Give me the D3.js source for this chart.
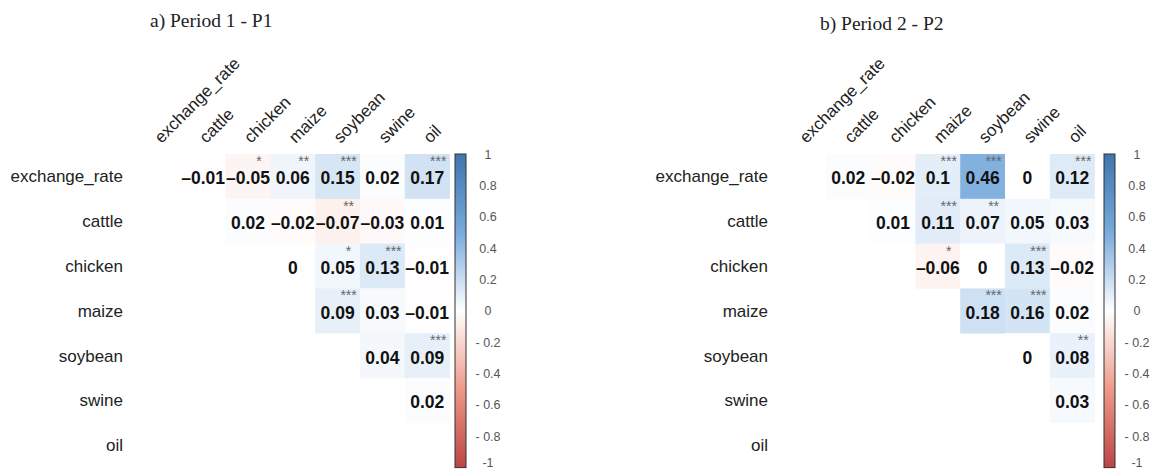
<!DOCTYPE html>
<html><head><meta charset="utf-8">
<script src="https://cdn.jsdelivr.net/npm/d3@7"></script>
<style>body{margin:0;background:#fff}svg{display:block}</style>
</head><body><svg id="c" width="1150" height="472"></svg>
<script>
const variables = ["exchange_rate","cattle","chicken","maize","soybean","swine","oil"];
// upper triangle (no diagonal), row i holds columns i+1..6
const p1Values = [
  [-0.01,-0.05,0.06,0.15,0.02,0.17],
  [0.02,-0.02,-0.07,-0.03,0.01],
  [0,0.05,0.13,-0.01],
  [0.09,0.03,-0.01],
  [0.04,0.09],
  [0.02]
];
const p1Stars = [
  ["","*","**","***","","***"],
  ["","","**","",""],
  ["","*","***",""],
  ["***","",""],
  ["","***"],
  [""]
];
const p2Values = [
  [0.02,-0.02,0.1,0.46,0,0.12],
  [0.01,0.11,0.07,0.05,0.03],
  [-0.06,0,0.13,-0.02],
  [0.18,0.16,0.02],
  [0,0.08],
  [0.03]
];
const p2Stars = [
  ["","","***","***","","***"],
  ["","***","**","",""],
  ["*","","***",""],
  ["***","***",""],
  ["","**"],
  [""]
];
const legendTicks = [1,0.8,0.6,0.4,0.2,0,-0.2,-0.4,-0.6,-0.8,-1];
const legendLabels = ["1","0.8","0.6","0.4","0.2","0","- 0.2","- 0.4","- 0.6","- 0.8","-1"];
const colorStops = [-1,-0.5,0,0.5,1];
const colorRange = ["#BB4444","#EE9988","#FFFFFF","#77AADD","#3F76AD"];
const titles = ["a) Period 1 - P1","b) Period 2 - P2"];

(function(){
const svg = d3.select("#c");
const color = d3.scaleLinear().domain(colorStops).range(colorRange).interpolate(d3.interpolateRgb);
const cell = 44.8, mTop = 154;

const defs = svg.append("defs");
const grad = defs.append("linearGradient").attr("id","cb").attr("x1",0).attr("y1",1).attr("x2",0).attr("y2",0);
d3.range(-1,1.0001,0.05).forEach(v=>{
  grad.append("stop").attr("offset",((v+1)/2*100)+"%").attr("stop-color",color(v));
});

function fmt(v){ return String(v).replace("-","\u2013"); }

function panel(left, barX, values, stars, title, tx, ty){
  const g = svg.append("g");
  const x = d3.scaleBand().domain(variables).range([left, left+cell*7]);
  const y = d3.scaleBand().domain(variables).range([mTop, mTop+cell*7]);
  const cells = [];
  values.forEach((row,i)=>row.forEach((v,k)=>{
    const j=i+1+k;
    cells.push({r:variables[i],c:variables[j],v,s:stars[i][k]});
  }));
  g.selectAll("rect.cell").data(cells).join("rect").attr("class","cell")
    .attr("x",d=>x(d.c)).attr("y",d=>y(d.r))
    .attr("width",x.bandwidth()+0.3).attr("height",y.bandwidth()+0.3)
    .attr("fill",d=>color(d.v));
  g.selectAll("text.num").data(cells).join("text").attr("class","num")
    .attr("x",d=>x(d.c)+x.bandwidth()/2).attr("y",d=>y(d.r)+y.bandwidth()/2+8)
    .attr("text-anchor","middle")
    .style("font-family","Liberation Sans, Arial, sans-serif").style("font-weight","bold")
    .style("font-size","17.5px").attr("fill","#111").text(d=>fmt(d.v));
  g.selectAll("text.star").data(cells.filter(d=>d.s)).join("text").attr("class","star")
    .attr("x",d=>x(d.c)+x.bandwidth()/2+11).attr("y",d=>y(d.r)+12)
    .attr("text-anchor","middle")
    .style("font-family","Liberation Sans, Arial, sans-serif")
    .style("font-size","14px").attr("fill","#666").text(d=>d.s);
  g.selectAll("text.rl").data(variables).join("text").attr("class","rl")
    .attr("x",left-13).attr("y",d=>y(d)+y.bandwidth()/2+6)
    .attr("text-anchor","end")
    .style("font-family","Liberation Sans, Arial, sans-serif")
    .style("font-size","17px").attr("fill","#222").text(d=>d);
  g.selectAll("text.cl").data(variables).join("text").attr("class","cl")
    .attr("transform",d=>`translate(${x(d)+x.bandwidth()/2+3},${mTop-10}) rotate(-45)`)
    .style("font-family","Liberation Sans, Arial, sans-serif")
    .style("font-size","17px").attr("fill","#222").text(d=>d);
  const yb = d3.scaleLinear().domain([-1,1]).range([mTop+cell*7, mTop]);
  g.append("rect").attr("x",barX).attr("y",yb(1)).attr("width",11).attr("height",yb(-1)-yb(1))
    .attr("fill","url(#cb)").attr("stroke","#333").attr("stroke-width",1);
  const ax = g.append("g").attr("transform",`translate(${barX+33},0)`)
    .call(d3.axisRight(yb).tickValues(legendTicks).tickSize(0).tickPadding(0)
      .tickFormat((d,i)=>legendLabels[i]));
  ax.select(".domain").remove();
  ax.selectAll("text").attr("text-anchor","middle")
    .style("font-family","Liberation Sans, Arial, sans-serif").style("font-size","12.5px").attr("fill","#555");
  ax.selectAll(".tick").filter(d=>d===-1).select("text").attr("dy","-0.05em");
  g.append("text").attr("x",tx).attr("y",ty)
    .style("font-family","Liberation Serif, Times New Roman, serif")
    .style("font-size","19.5px").attr("fill","#222").text(title);
}
panel(136, 455, p1Values, p1Stars, titles[0], 150, 27);
panel(781, 1104, p2Values, p2Stars, titles[1], 820, 30);
})();
</script></body></html>
